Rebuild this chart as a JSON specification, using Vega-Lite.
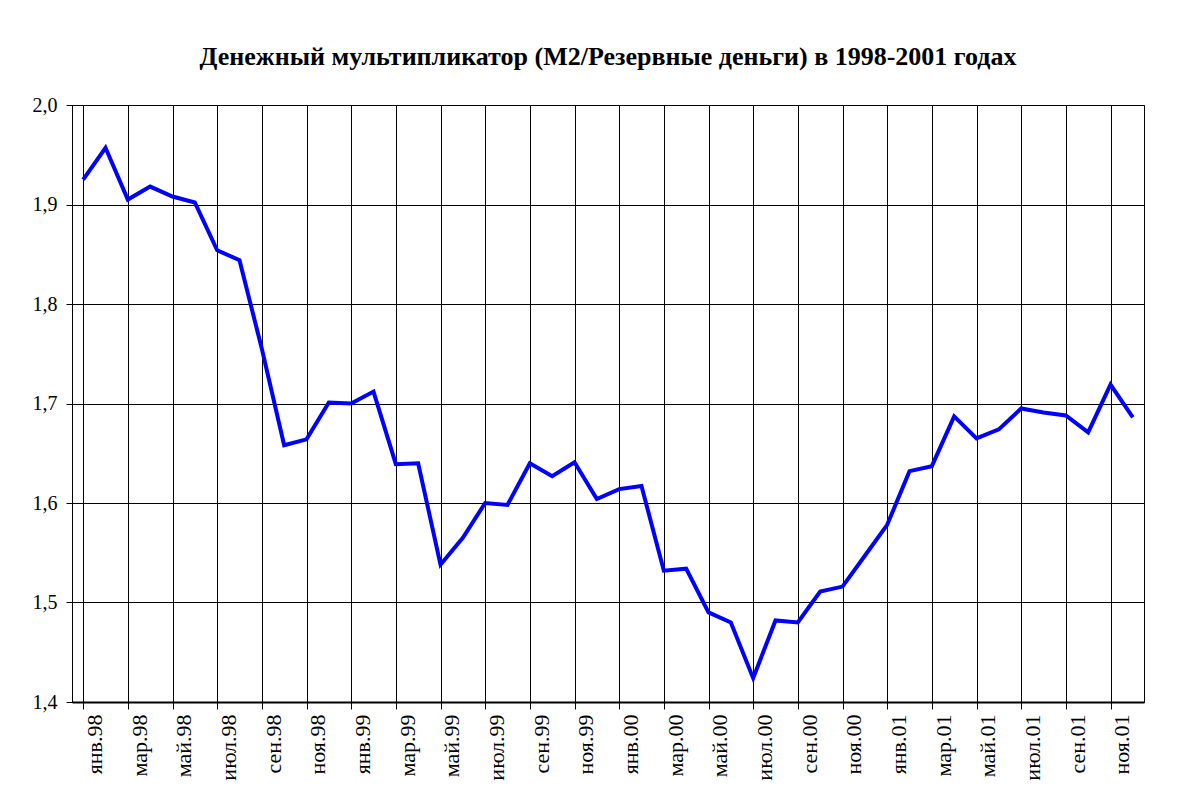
{
  "$schema": "https://vega.github.io/schema/vega-lite/v6.json",
  "width": 1072,
  "height": 597,
  "autosize": "none",
  "padding": {"left": 72, "top": 105, "right": 48, "bottom": 96},
  "background": "white",
  "title": {
    "text": "Денежный мультипликатор (M2/Резервные деньги) в 1998-2001 годах",
    "font": "Times New Roman",
    "fontSize": 26,
    "fontWeight": "bold",
    "color": "black",
    "anchor": "middle",
    "offset": 25
  },
  "data": {
    "values": [
      {"month": "янв.98", "value": 1.925},
      {"month": "фев.98", "value": 1.957},
      {"month": "мар.98", "value": 1.905},
      {"month": "апр.98", "value": 1.918},
      {"month": "май.98", "value": 1.908},
      {"month": "июн.98", "value": 1.902},
      {"month": "июл.98", "value": 1.854},
      {"month": "авг.98", "value": 1.844},
      {"month": "сен.98", "value": 1.755},
      {"month": "окт.98", "value": 1.658},
      {"month": "ноя.98", "value": 1.664},
      {"month": "дек.98", "value": 1.701},
      {"month": "янв.99", "value": 1.700},
      {"month": "фев.99", "value": 1.712},
      {"month": "мар.99", "value": 1.639},
      {"month": "апр.99", "value": 1.640},
      {"month": "май.99", "value": 1.538},
      {"month": "июн.99", "value": 1.565},
      {"month": "июл.99", "value": 1.600},
      {"month": "авг.99", "value": 1.598},
      {"month": "сен.99", "value": 1.640},
      {"month": "окт.99", "value": 1.627},
      {"month": "ноя.99", "value": 1.641},
      {"month": "дек.99", "value": 1.604},
      {"month": "янв.00", "value": 1.614},
      {"month": "фев.00", "value": 1.617},
      {"month": "мар.00", "value": 1.532},
      {"month": "апр.00", "value": 1.534},
      {"month": "май.00", "value": 1.490},
      {"month": "июн.00", "value": 1.480},
      {"month": "июл.00", "value": 1.424},
      {"month": "авг.00", "value": 1.482},
      {"month": "сен.00", "value": 1.480},
      {"month": "окт.00", "value": 1.511},
      {"month": "ноя.00", "value": 1.516},
      {"month": "дек.00", "value": 1.547},
      {"month": "янв.01", "value": 1.578},
      {"month": "фев.01", "value": 1.632},
      {"month": "мар.01", "value": 1.637},
      {"month": "апр.01", "value": 1.687},
      {"month": "май.01", "value": 1.665},
      {"month": "июн.01", "value": 1.674},
      {"month": "июл.01", "value": 1.695},
      {"month": "авг.01", "value": 1.691},
      {"month": "сен.01", "value": 1.688},
      {"month": "окт.01", "value": 1.671},
      {"month": "ноя.01", "value": 1.719},
      {"month": "дек.01", "value": 1.686}
    ]
  },
  "mark": {"type": "line", "color": "#0000FF", "strokeWidth": 4},
  "encoding": {
    "x": {
      "field": "month",
      "type": "ordinal",
      "sort": null,
      "scale": {"paddingInner": 0, "paddingOuter": 0},
      "axis": {
        "title": null,
        "values": ["янв.98","мар.98","май.98","июл.98","сен.98","ноя.98","янв.99","мар.99","май.99","июл.99","сен.99","ноя.99","янв.00","мар.00","май.00","июл.00","сен.00","ноя.00","янв.01","мар.01","май.01","июл.01","сен.01","ноя.01"],
        "bandPosition": 0,
        "labelOffset": 11.17,
        "labelAngle": 270,
        "labelAlign": "right",
        "labelBaseline": "middle",
        "labelFont": "Times New Roman",
        "labelFontSize": 22,
        "labelColor": "black",
        "labelPadding": 5,
        "labelOverlap": false,
        "grid": true,
        "gridColor": "black",
        "gridOpacity": 1,
        "gridWidth": 1,
        "tickColor": "black",
        "tickSize": 7,
        "domainColor": "black",
        "domainWidth": 2
      }
    },
    "y": {
      "field": "value",
      "type": "quantitative",
      "scale": {"domain": [1.4, 2.0], "zero": false, "nice": false},
      "axis": {
        "title": null,
        "values": [1.4, 1.5, 1.6, 1.7, 1.8, 1.9, 2.0],
        "labelExpr": "replace(format(datum.value, '.1f'), '.', ',')",
        "labelFont": "Times New Roman",
        "labelFontSize": 20,
        "labelColor": "black",
        "labelPadding": 9,
        "grid": true,
        "gridColor": "black",
        "gridOpacity": 1,
        "gridWidth": 1,
        "tickColor": "black",
        "tickSize": 6,
        "domainColor": "black",
        "domainWidth": 1
      }
    }
  },
  "config": {"view": {"stroke": "black", "strokeWidth": 1}}
}
